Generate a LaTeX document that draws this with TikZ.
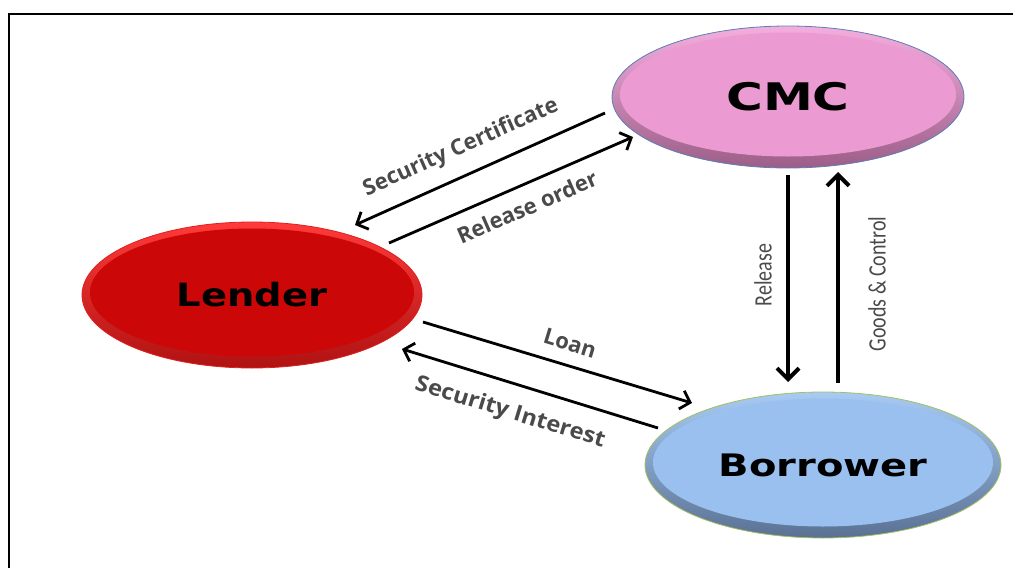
\documentclass[tikz,border=0pt]{standalone}
\usepackage{fontspec}
\usetikzlibrary{shapes.geometric,arrows.meta,calc}
\newfontfamily\dejavu{DejaVu Sans}
\newfontfamily\opensans{Open Sans}
\newfontfamily\carlito{Carlito}
\definecolor{cmcmain}{HTML}{EC9BD2}
\definecolor{cmcrim}{HTML}{9C5E88}
\definecolor{cmchi}{HTML}{F4AEDD}
\definecolor{cmcline}{HTML}{5B7FB8}
\definecolor{lenmain}{HTML}{CC0707}
\definecolor{lenrim}{HTML}{B01212}
\definecolor{lenhi}{HTML}{FF3A3A}
\definecolor{lenline}{HTML}{E02020}
\definecolor{bormain}{HTML}{99C0EE}
\definecolor{borrim}{HTML}{5A7193}
\definecolor{borhi}{HTML}{A8CBF3}
\definecolor{borline}{HTML}{A4C060}
\definecolor{labgrey}{HTML}{4A4A4A}
\tikzset{
  x=1pt, y=-1pt,
  party/.style n args={6}{ellipse, inner sep=0pt, minimum width=#1, minimum height=#2,
    top color=#4, bottom color=#3, draw=#6, line width=0.8pt,
    path picture={\fill[#5] ([yshift=2.5pt]path picture bounding box.center)
      ellipse [x radius=0.5*#1-8pt, y radius=0.5*#2-9pt];}},
  partytext/.style={font=\dejavu\bfseries, text=black},
  flow/.style={line width=2.8pt, -{Straight Barb[length=9pt,width=19pt]}},
  vflow/.style={line width=4pt, -{Straight Barb[length=11pt,width=22pt]}},
  flowlab/.style={font=\opensans\bfseries\fontsize{22}{26}\selectfont, text=labgrey, inner sep=0pt},
  vlab/.style={font=\carlito\fontsize{20}{24}\selectfont, text=labgrey, inner sep=0pt, rotate=90},
}
\begin{document}
\begin{tikzpicture}
\useasboundingbox (0,0) rectangle (1013,568);
\begin{scope}
\clip (0,0) rectangle (1013,568);
\draw[line width=2pt] (9,580) -- (9,13.7) -- (1030,13.7);
\end{scope}

\node[party={352pt}{142pt}{cmcrim}{cmchi}{cmcmain}{cmcline}] (cmc) at (788,97) {};
\node[party={340pt}{146pt}{lenrim}{lenhi}{lenmain}{lenline}] (lender) at (252,295) {};
\node[party={356pt}{146pt}{borrim}{borhi}{bormain}{borline}] (borrower) at (823,465) {};

\node[partytext, font=\dejavu\bfseries\fontsize{38}{42}\selectfont] at (cmc.center) {\scalebox{1.32}[1]{CMC}};
\node[partytext, font=\dejavu\bfseries\fontsize{32}{36}\selectfont] at (lender.center) {\scalebox{1.2}[1]{Lender}};
\node[partytext, font=\dejavu\bfseries\fontsize{31}{36}\selectfont] at (borrower.center) {\scalebox{1.29}[1]{Borrower}};

% Lender <-> CMC
\draw[flow] ($(cmc.center)+(-183,16)$) -- ($(lender.center)+(103,-70)$);
\draw[flow] ($(lender.center)+(137,-52)$) -- ($(cmc.center)+(-155,40)$);
% Lender <-> Borrower
\draw[flow] ($(lender.center)+(171,27)$) -- ($(borrower.center)+(-131,-62)$);
\draw[flow] ($(borrower.center)+(-165,-37)$) -- ($(lender.center)+(150,54)$);
% CMC <-> Borrower
\draw[vflow] ($(cmc.center)+(0,78)$) -- ($(borrower.center)+(-35,-83)$);
\draw[vflow] ($(borrower.center)+(15,-82)$) -- ($(cmc.center)+(50,75)$);

\node[flowlab, rotate=24] (lsc) at (461,148) {Security Certificate};
\node[flowlab, rotate=23.5] (lro) at (527,207) {Release order};
\node[flowlab, rotate=-17] (lloan) at (570,343) {Loan};
\node[flowlab, rotate=-17] (lsi) at (510,413) {\scalebox{1.08}[1]{Security Interest}};
\node[vlab] (lrel) at (763,275) {\scalebox{1}[1.25]{Release}};
\node[vlab] (lgc) at (877,284) {\scalebox{1}[1.25]{Goods \& Control}};
\end{tikzpicture}
\end{document}
